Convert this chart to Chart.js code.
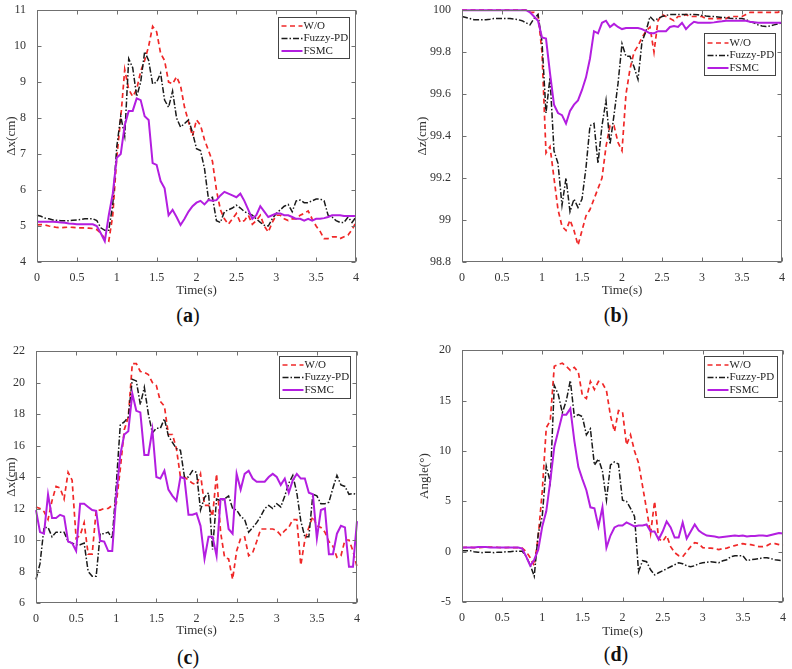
<!DOCTYPE html>
<html><head><meta charset="utf-8">
<script src="https://cdn.jsdelivr.net/npm/chart.js@4.4.1/dist/chart.umd.min.js"></script>
<style>
html,body{margin:0;padding:0;background:#fff;width:792px;height:669px;overflow:hidden;position:relative}
canvas{position:absolute}
.lab{position:absolute;font-family:'Liberation Serif',serif;font-size:20px;color:#111;transform:translate(-50%,-50%);white-space:nowrap}
</style></head><body>
<canvas id="ca" width="370" height="300" style="left:0;top:0"></canvas>
<canvas id="cb" width="382" height="300" style="left:410px;top:0"></canvas>
<canvas id="cc" width="370" height="300" style="left:0;top:340px"></canvas>
<canvas id="cd" width="382" height="300" style="left:410px;top:340px"></canvas>
<div class="lab" style="left:188px;top:315px">(<b>a</b>)</div>
<div class="lab" style="left:616px;top:315px">(<b>b</b>)</div>
<div class="lab" style="left:188px;top:657px">(<b>c</b>)</div>
<div class="lab" style="left:616px;top:654px">(<b>d</b>)</div>
<script>
// ---------- DATA ----------
const time = [0,0.05,0.1,0.15,0.2,0.25,0.3,0.35,0.4,0.45,
 0.5,0.55,0.6,0.65,0.7,0.75,0.8,0.85,0.9,0.95,
 1,1.05,1.1,1.15,1.2,1.25,1.3,1.35,1.4,1.45,
 1.5,1.55,1.6,1.65,1.7,1.75,1.8,1.85,1.9,1.95,
 2,2.05,2.1,2.15,2.2,2.25,2.3,2.35,2.4,2.45,
 2.5,2.55,2.6,2.65,2.7,2.75,2.8,2.85,2.9,2.95,
 3,3.05,3.1,3.15,3.2,3.25,3.3,3.35,3.4,3.45,
 3.5,3.55,3.6,3.65,3.7,3.75,3.8,3.85,3.9,3.95,4];
const seriesNames = ['W/O','Fuzzy-PD','FSMC'];
const xTicks = [0,0.5,1,1.5,2,2.5,3,3.5,4];

// (a) Δx(cm)
const aWO = [5.03,5.04,5.03,5.0,4.98,4.96,4.95,4.96,4.97,4.96,
 4.95,4.95,4.95,4.94,4.93,4.9,4.8,4.65,4.58,5.3,
 6.9,8.0,9.35,8.8,8.6,8.8,9.3,9.6,10.0,10.55,
 10.4,9.8,9.6,9.0,8.95,9.15,8.9,8.3,7.9,7.5,
 7.95,7.8,7.4,7.1,6.8,6.0,5.45,5.2,5.05,5.2,
 5.35,5.1,5.15,5.3,5.05,5.15,5.3,5.0,4.83,5.1,
 5.3,5.3,5.2,5.15,5.2,5.2,5.3,5.35,5.42,5.2,
 5.0,4.85,4.65,4.65,4.7,4.7,4.65,4.7,4.75,4.9,5.1];
const aFuzzy = [5.3,5.27,5.22,5.2,5.17,5.16,5.15,5.15,5.15,5.16,
 5.17,5.18,5.2,5.2,5.2,5.15,4.95,4.88,4.88,5.6,
 7.2,8.05,7.5,9.65,9.4,8.6,9.0,9.85,9.6,8.95,
 9.0,9.25,8.5,8.3,8.75,8.0,7.75,7.85,7.95,7.6,
 7.15,7.1,6.6,5.75,5.8,5.15,5.1,5.4,5.45,5.5,
 5.58,5.5,5.4,5.35,5.3,5.2,5.1,5.02,5.0,5.2,
 5.35,5.45,5.55,5.6,5.4,5.7,5.72,5.65,5.65,5.7,
 5.75,5.75,5.7,5.3,5.25,5.15,5.1,5.1,5.25,5.1,5.25];
const aFSMC = [5.12,5.12,5.12,5.12,5.12,5.11,5.1,5.09,5.07,5.06,
 5.05,5.05,5.05,5.05,5.05,5.0,4.8,4.58,5.3,5.9,
 6.9,7.0,7.8,8.2,8.2,8.55,8.5,8.05,7.95,6.75,
 6.7,6.25,6.05,5.3,5.45,5.25,5.03,5.2,5.4,5.55,
 5.65,5.7,5.6,5.72,5.7,5.72,5.85,5.95,5.9,5.85,
 5.8,5.9,5.7,5.45,5.2,5.3,5.55,5.4,5.25,5.3,
 5.35,5.35,5.3,5.3,5.25,5.2,5.2,5.15,5.2,5.15,
 5.2,5.2,5.22,5.25,5.3,5.3,5.3,5.28,5.28,5.28,5.28];

// (b) Δz(cm)
const bWO = [100,100,100,100,100,100,100,100,100,100,
 100,100,100,100,100,100,100,99.99,99.99,99.98,
 99.8,99.32,99.35,99.2,99.05,98.97,98.95,99.0,98.95,98.88,
 98.95,99.02,99.05,99.1,99.15,99.2,99.35,99.45,99.45,99.37,
 99.33,99.6,99.72,99.8,99.83,99.87,99.9,99.92,99.8,99.95,
 99.98,99.97,99.96,99.95,99.97,99.97,99.98,99.97,99.97,99.97,
 99.97,99.96,99.96,99.96,99.96,99.96,99.96,99.97,99.97,99.97,
 99.97,99.98,99.99,99.99,99.99,99.99,99.99,99.99,99.99,99.99,100];
const bFuzzy = [99.97,99.965,99.96,99.955,99.955,99.955,99.955,99.957,99.96,99.96,
 99.96,99.96,99.96,99.958,99.955,99.95,99.94,99.93,99.96,99.98,
 99.85,99.51,99.68,99.33,99.27,99.07,99.2,99.04,99.1,99.06,
 99.1,99.25,99.45,99.46,99.27,99.45,99.57,99.36,99.5,99.65,
 99.84,99.78,99.78,99.73,99.67,99.85,99.9,99.97,99.95,99.96,
 99.97,99.975,99.98,99.98,99.98,99.98,99.98,99.98,99.98,99.978,
 99.975,99.972,99.97,99.97,99.968,99.965,99.965,99.962,99.96,99.96,
 99.96,99.955,99.945,99.94,99.93,99.925,99.922,99.925,99.93,99.935,99.94];
const bFSMC = [100,100,100,100,100,100,100,100,100,100,
 100,100,100,100,100,100,100,99.99,99.97,99.95,
 99.87,99.865,99.7,99.55,99.51,99.5,99.46,99.52,99.55,99.57,
 99.62,99.68,99.77,99.9,99.89,99.94,99.95,99.92,99.935,99.92,
 99.91,99.915,99.915,99.915,99.915,99.91,99.9,99.89,99.89,99.9,
 99.9,99.9,99.92,99.925,99.92,99.94,99.91,99.93,99.945,99.94,
 99.94,99.94,99.94,99.942,99.945,99.947,99.95,99.95,99.95,99.95,
 99.95,99.95,99.945,99.943,99.94,99.94,99.94,99.94,99.94,99.94,99.94];

// (c) Δx(cm)
const cWO = [12.1,12.0,11.8,11.3,12.5,13.4,13.3,12.6,14.3,13.8,
 10.1,10.3,11.1,9.1,9.1,11.9,11.9,12.0,12.0,12.2,
 12.3,14.5,17.0,17.8,21.2,21.2,20.7,20.65,20.5,20.0,
 19.8,18.8,18.5,16.7,16.7,15.8,14.0,14.0,13.8,13.6,
 13.5,14.2,12.2,12.2,11.5,14.2,10.5,8.9,8.8,7.5,
 9.3,10.1,10.2,9.0,9.2,9.9,10.7,10.7,10.7,10.7,
 10.6,10.3,10.6,10.8,11.3,11.3,8.4,10.0,10.8,11.5,
 10.9,10.8,10.5,9.9,9.6,8.9,9.0,10.0,10.0,9.3,8.3];
const cFuzzy = [7.5,8.5,10.8,10.8,10.2,10.5,10.5,10.5,9.9,9.8,
 9.7,9.7,9.8,8.0,7.7,7.7,10.4,10.4,10.5,10.1,
 13.5,17.3,17.5,17.8,20.2,20.1,18.6,19.7,18.0,16.8,
 17.1,17.1,17.7,16.6,16.2,15.8,15.7,14.0,14.0,14.4,
 14.3,11.9,12.7,13.0,9.4,12.6,12.5,12.6,12.8,12.0,
 11.9,11.5,11.3,10.5,10.8,11.1,11.5,12.0,12.2,12.0,
 12.3,12.1,12.8,13.6,14.1,13.0,11.2,10.2,10.2,12.9,
 12.8,12.3,12.3,12.4,13.3,14.1,13.5,13.4,12.9,12.95,12.9];
const cFSMC = [11.9,10.5,10.4,12.9,11.4,11.4,11.6,11.5,9.9,9.8,
 9.3,12.3,12.3,12.1,11.9,11.85,9.95,9.9,9.3,9.3,
 12.8,15.4,16.7,16.9,19.3,18.2,18.1,15.4,15.4,17.0,
 14.0,13.9,14.4,13.2,12.8,12.5,14.0,13.9,11.6,11.6,
 11.7,10.9,8.8,10.2,10.2,9.0,12.6,12.6,10.7,10.4,
 14.2,13.2,14.2,14.4,13.9,13.7,13.7,13.7,14.0,14.2,
 14.0,13.5,13.9,13.0,13.8,14.2,13.9,13.9,13.0,12.9,
 10.1,11.9,12.0,9.1,9.1,10.4,10.9,10.8,8.3,8.3,11.2];

// (d) Angle(°)
const dWO = [0.4,0.42,0.42,0.4,0.4,0.42,0.45,0.45,0.45,0.42,
 0.4,0.4,0.42,0.4,0.4,0.35,0.0,-0.6,-1.4,1.5,
 6.0,12.3,13.0,18.4,18.6,18.7,18.4,18.0,18.3,17.8,
 15.5,15.2,16.9,16.1,16.9,16.7,16.0,13.5,11.9,14.0,
 13.9,10.6,11.6,10.0,8.8,6.5,4.2,1.8,5.0,1.3,
 1.0,1.6,0.5,-0.1,-0.4,-0.5,0.0,0.5,0.9,0.8,
 0.4,0.35,0.35,0.3,0.2,0.3,0.35,0.5,0.6,0.7,
 0.8,0.7,0.7,0.6,0.5,0.5,0.6,0.8,0.8,0.7,0.6];
const dFuzzy = [0.1,0.1,0.1,0.0,-0.05,-0.1,-0.05,-0.05,-0.1,-0.05,
 -0.05,0.0,0.0,0.05,0.05,0.05,-0.5,-1.3,-2.45,1.8,
 3.5,8.5,6.9,16.5,15.6,13.8,15.0,17.0,13.4,13.6,
 13.4,11.6,12.2,8.6,9.2,8.0,5.1,8.6,8.9,8.7,
 5.1,5.0,4.3,3.5,-2.0,-0.9,-1.0,-1.8,-2.3,-2.1,
 -1.9,-1.7,-1.5,-1.3,-1.1,-1.2,-1.4,-1.5,-1.4,-1.2,
 -1.1,-1.05,-1.0,-1.05,-1.1,-0.9,-0.8,-0.5,-0.4,-0.4,
 -0.4,-0.9,-0.8,-0.75,-0.7,-0.6,-0.6,-0.7,-0.8,-0.85,-0.9];
const dFSMC = [0.4,0.4,0.4,0.42,0.45,0.45,0.45,0.42,0.4,0.4,
 0.4,0.4,0.4,0.4,0.4,0.3,-0.5,-1.4,-0.8,0.2,
 2.5,4.0,7.0,10.4,12.0,13.6,13.6,14.2,11.0,8.4,
 7.2,6.1,4.4,4.3,2.5,4.4,0.4,1.6,2.4,2.6,
 2.6,2.9,2.7,2.5,2.6,2.6,2.7,2.0,2.0,1.2,
 2.0,3.0,2.4,1.4,1.4,2.9,1.3,2.0,2.7,2.1,
 1.8,1.6,1.55,1.5,1.4,1.45,1.5,1.55,1.6,1.55,
 1.6,1.5,1.55,1.55,1.6,1.6,1.55,1.65,1.75,1.85,1.8];

// ---------- STYLES ----------
const FONT = "'Liberation Serif', 'Times New Roman', serif";
Chart.defaults.font.family = FONT;
const lineStyles = [
  {borderColor:'#f02828', borderWidth:1.7, borderDash:[5,3.5], order:3},
  {borderColor:'#1a1a1a', borderWidth:1.5, borderDash:[6,2,1.5,2], order:2},
  {borderColor:'#b31ee0', borderWidth:2, borderDash:[], order:1}
];

const matlabFrame = {
  id: 'matlabFrame',
  afterDatasetsDraw(chart, args, o) {
    const {ctx, chartArea: a, scales} = chart;
    const L = Math.round(a.left) + 0.5, R = Math.round(a.right) - 0.5;
    const T = Math.round(a.top) + 0.5, B = Math.round(a.bottom) - 0.5;
    ctx.save();
    ctx.setLineDash([]);
    ctx.strokeStyle = '#707070';
    ctx.lineWidth = 1;
    ctx.beginPath();
    scales.x.ticks.forEach(t => {
      const p = Math.round(scales.x.getPixelForValue(t.value)) + 0.5;
      ctx.moveTo(p, B); ctx.lineTo(p, B - 4);
      ctx.moveTo(p, T); ctx.lineTo(p, T + 4);
    });
    scales.y.ticks.forEach(t => {
      const p = Math.round(scales.y.getPixelForValue(t.value)) + 0.5;
      ctx.moveTo(L, p); ctx.lineTo(L + 4, p);
      ctx.moveTo(R, p); ctx.lineTo(R - 4, p);
    });
    ctx.stroke();
    ctx.strokeRect(L, T, R - L, B - T);
    // legend box
    const lg = o.legend;
    const bx = Math.round(R - lg.right - lg.w) + 0.5, by = Math.round(T + lg.top) + 0.5;
    ctx.fillStyle = '#fff';
    ctx.fillRect(bx, by, lg.w, lg.h);
    ctx.strokeStyle = '#444';
    ctx.strokeRect(bx, by, lg.w, lg.h);
    ctx.font = '11px ' + FONT;
    ctx.textBaseline = 'middle';
    chart.data.datasets.forEach((ds, i) => {
      const yy = by + lg.rowTop + i * lg.rowGap;
      ctx.strokeStyle = ds.borderColor;
      ctx.lineWidth = ds.borderWidth;
      ctx.setLineDash(ds.borderDash || []);
      ctx.beginPath();
      ctx.moveTo(bx + 3, yy); ctx.lineTo(bx + 24, yy);
      ctx.stroke();
      ctx.setLineDash([]);
      ctx.fillStyle = '#222';
      ctx.fillText(ds.label, bx + 25, yy);
    });
    ctx.restore();
  }
};

function makeChart(id, p) {
  const datasets = p.series.map((arr, i) => Object.assign({
    label: seriesNames[i],
    data: time.map((t, k) => ({x: t, y: arr[k]})),
    pointRadius: 0, tension: 0, fill: false, clip: 3
  }, lineStyles[i]));
  return new Chart(document.getElementById(id), {
    type: 'line',
    data: {datasets},
    plugins: [matlabFrame],
    options: {
      responsive: false, animation: false, devicePixelRatio: 1,
      layout: {padding: {left: 0, top: p.plot.t, right: p.w - p.plot.r, bottom: 0}},
      plugins: {legend: {display: false}, tooltip: {enabled: false},
        matlabFrame: {legend: p.legend}},
      scales: {
        x: {type: 'linear', min: 0, max: 4,
          afterBuildTicks: s => { s.ticks = xTicks.map(v => ({value: v})); },
          afterFit: s => { s.height = p.h - p.plot.b; },
          grid: {display: false}, border: {display: false},
          ticks: {padding: 1, color: '#333', font: {size: 12}, maxRotation: 0,
            callback: v => String(v)},
          title: {display: true, text: 'Time(s)', color: '#333', font: {size: 13},
            padding: {top: 0, bottom: p.xTitlePad}}
        },
        y: {type: 'linear', min: p.yMin, max: p.yMax,
          afterBuildTicks: s => { s.ticks = p.yTicks.map(v => ({value: v})); },
          afterFit: s => { s.width = p.plot.l; },
          grid: {display: false}, border: {display: false},
          ticks: {padding: 3, color: '#333', font: {size: 12},
            callback: v => String(+v.toFixed(2))},
          title: {display: true, text: p.yTitle, color: '#333', font: {size: 13},
            padding: {top: p.yTitlePad, bottom: 0}}
        }
      }
    }
  });
}

makeChart('ca', {w: 370, h: 300, plot: {l: 37, t: 10, r: 356, b: 262},
  yMin: 4, yMax: 11, yTicks: [4,5,6,7,8,9,10,11], yTitle: 'Δx(cm)', yTitlePad: 4, xTitlePad: 2,
  legend: {right: 7, top: 6, w: 71, h: 41, rowTop: 8.5, rowGap: 12.5},
  series: [aWO, aFuzzy, aFSMC]});
makeChart('cb', {w: 382, h: 300, plot: {l: 52, t: 9, r: 372, b: 262},
  yMin: 98.8, yMax: 100, yTicks: [98.8,99,99.2,99.4,99.6,99.8,100], yTitle: 'Δz(cm)', yTitlePad: 5, xTitlePad: 2,
  legend: {right: 7, top: 22, w: 71, h: 42, rowTop: 9.5, rowGap: 12.5},
  series: [bWO, bFuzzy, bFSMC]});
makeChart('cc', {w: 370, h: 300, plot: {l: 36, t: 11, r: 357, b: 263},
  yMin: 6, yMax: 22, yTicks: [6,8,10,12,14,16,18,20,22], yTitle: 'Δx(cm)', yTitlePad: 4, xTitlePad: 2,
  legend: {right: 7, top: 4, w: 71, h: 42, rowTop: 8.5, rowGap: 12.5},
  series: [cWO, cFuzzy, cFSMC]});
makeChart('cd', {w: 382, h: 300, plot: {l: 52, t: 10, r: 373, b: 262},
  yMin: -5, yMax: 20, yTicks: [-5,0,5,10,15,20], yTitle: 'Angle(°)', yTitlePad: 7, xTitlePad: 1,
  legend: {right: 6, top: 5, w: 73, h: 41, rowTop: 8.5, rowGap: 12.5},
  series: [dWO, dFuzzy, dFSMC]});
</script>
</body></html>
